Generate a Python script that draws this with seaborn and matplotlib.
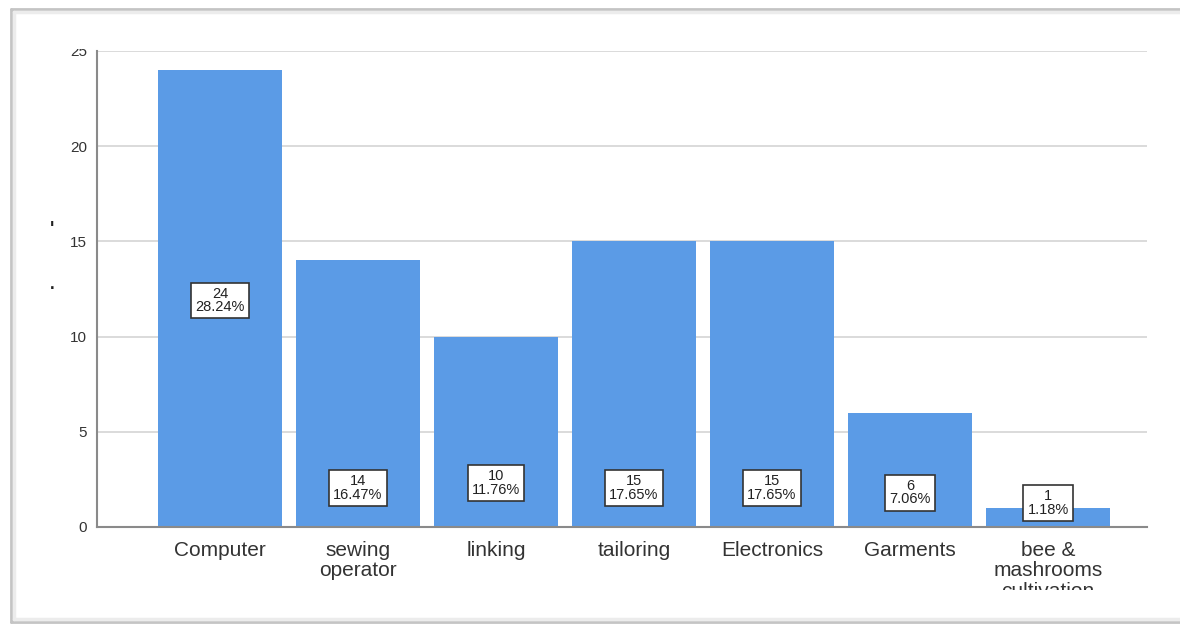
import matplotlib
matplotlib.use("Agg")
import matplotlib.pyplot as plt
from matplotlib.patches import Rectangle
from matplotlib.lines import Line2D
import seaborn as sns
import pandas as pd

# Training course enrolment counts
categories = ["Computer", "sewing\noperator", "linking", "tailoring",
              "Electronics", "Garments", "bee &\nmashrooms\ncultivation"]
counts = [24, 14, 10, 15, 15, 6, 1]
y_ticks = [0, 5, 10, 15, 20, 25]

total = sum(counts)
percents = [c / total * 100 for c in counts]
df = pd.DataFrame({"course": categories, "count": counts})

W, H = 1180, 624
sns.set_theme(style="white")
plt.rcParams["font.family"] = ["Liberation Sans", "DejaVu Sans"]

fig = plt.figure(figsize=(W / 100, H / 100), dpi=100)
fig.patch.set_facecolor("white")

# axes box in pixel terms: x 97..1147, y 51..527 (from top)
ax = fig.add_axes([97 / W, (H - 527) / H, (1147 - 97) / W, (527 - 51) / H])
ax.set_facecolor("white")

ax.set_axisbelow(True)
ax.yaxis.grid(True, color="#d4d4d4", linewidth=1.2)
ax.xaxis.grid(False)

sns.barplot(data=df, x="course", y="count", color="#5b9be6", saturation=1,
            width=0.9, ax=ax, zorder=2, linewidth=0, edgecolor="none")

ax.set_xlim(-0.891, 6.717)
ax.set_ylim(0, 25)
ax.set_yticks(y_ticks)
ax.set_yticklabels([str(t) for t in y_ticks], fontsize=11, color="#333333")
ax.tick_params(axis="y", length=0, pad=7)
ax.tick_params(axis="x", length=0, pad=10)
ax.set_xticks(range(len(categories)))
ax.set_xticklabels(categories, fontsize=15, color="#333333", linespacing=1.1,
                   va="top")
ax.set_xlabel("")
ax.set_ylabel("")

for side in ["top", "right"]:
    ax.spines[side].set_visible(False)
for side in ["left", "bottom"]:
    ax.spines[side].set_color("#8a8a8a")
    ax.spines[side].set_linewidth(1.5)

# value labels inside the bars
label_heights = [11.9, 2.05, 2.3, 2.05, 2.05, 1.8, 1.26]
for i, (c, p) in enumerate(zip(counts, percents)):
    ax.text(i, label_heights[i], f"{c}\n{p:.2f}%", ha="center", va="center",
            fontsize=10.5, color="#222222", linespacing=0.95, zorder=5,
            bbox=dict(boxstyle="square,pad=0.28", facecolor="white",
                      edgecolor="#333333", linewidth=1.2))

# clipping of the top tick label and the bottom category label
fig.patches.append(Rectangle((55 / W, (H - 49) / H), 40 / W, 25 / H,
                             transform=fig.transFigure, facecolor="white",
                             edgecolor="none", zorder=3))
fig.patches.append(Rectangle((100 / W, (H - 616) / H), 1070 / W, 26 / H,
                             transform=fig.transFigure, facecolor="white",
                             edgecolor="none", zorder=3))

# stray marks left of the axis
fig.text(52 / W, 1 - 230 / H, "'", fontsize=13, fontweight="bold",
         color="#222222", ha="center", va="center")
fig.text(52 / W, 1 - 285 / H, ".", fontsize=12, fontweight="bold",
         color="#222222", ha="center", va="center")

# window frame
frame_col = "#c4c4c4"
for xs, ys in [([11, 11], [9, 622]), ([11, W], [9, 9]), ([11, W], [622, 622])]:
    fig.lines.append(Line2D([x / W for x in xs], [1 - y / H for y in ys],
                            transform=fig.transFigure, color=frame_col,
                            linewidth=2.0, zorder=4))
for xs, ys in [([14, 14], [12, 619]), ([14, W], [12, 12]), ([14, W], [619, 619])]:
    fig.lines.append(Line2D([x / W for x in xs], [1 - y / H for y in ys],
                            transform=fig.transFigure, color="#ececec",
                            linewidth=2.5, zorder=4))

fig.savefig("out.png", dpi=100, facecolor="white")
